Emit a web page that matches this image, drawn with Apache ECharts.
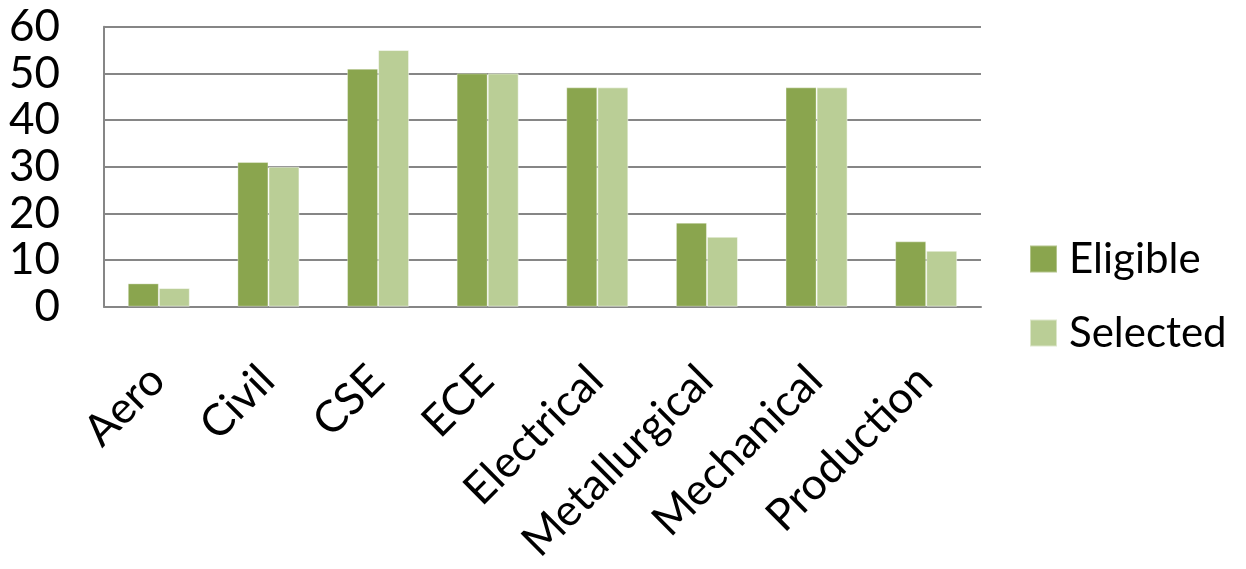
<!DOCTYPE html>
<html>
<head>
<meta charset="utf-8">
<script src="https://cdn.jsdelivr.net/npm/echarts@6/dist/echarts.min.js"></script>
<style>
html,body{margin:0;padding:0;background:#fff;}
#chart{width:1246px;height:569px;}
</style>
</head>
<body>
<div id="chart"></div>
<script>
var categories = ['Aero','Civil','CSE','ECE','Electrical','Metallurgical','Mechanical','Production'];
var eligible = [5, 31, 51, 50, 47, 18, 47, 14];
var selected = [4, 30, 55, 50, 47, 15, 47, 12];
var seriesNames = ['Eligible','Selected'];
var yTicks = {min: 0, max: 60, interval: 10};

var FONT = 'Lato, "Open Sans", sans-serif';
var chart = echarts.init(document.getElementById('chart'), null, {renderer: 'canvas'});
chart.setOption({
  animation: false,
  backgroundColor: '#ffffff',
  textStyle: {fontFamily: FONT},
  grid: {left: 104, right: 265, top: 26.7, bottom: 262.3, containLabel: false, outerBoundsMode: 'none'},
  legend: {
    orient: 'vertical',
    left: 1029,
    top: 237,
    padding: 0,
    itemWidth: 27,
    itemHeight: 27,
    itemGap: 30,
    icon: 'rect',
    data: seriesNames,
    textStyle: {fontFamily: FONT, fontSize: 42, color: '#000', lineHeight: 44, padding: [0,0,0,7]}
  },
  xAxis: {
    type: 'category',
    data: categories,
    axisLine: {show: true, lineStyle: {color: '#868686', width: 2}},
    axisTick: {show: false},
    axisLabel: {
      rotate: 45, interval: 0, margin: 65,
      fontFamily: FONT, fontSize: 44, color: '#000',
      lineHeight: 44, padding: [0, 2, 0, 0]
    },
    splitLine: {show: false}
  },
  yAxis: {
    type: 'value',
    min: yTicks.min, max: yTicks.max, interval: yTicks.interval,
    axisLine: {show: true, lineStyle: {color: '#868686', width: 2}},
    axisTick: {show: false},
    axisLabel: {margin: 44, fontFamily: FONT, fontSize: 44, color: '#000'},
    splitLine: {show: true, lineStyle: {color: '#868686', width: 2}}
  },
  series: [
    {
      name: seriesNames[0], type: 'bar', data: eligible,
      barGap: '0%', barCategoryGap: '43.4%',
      itemStyle: {color: '#8AA54E', borderColor: 'rgba(255,255,255,0.35)', borderWidth: 1}
    },
    {
      name: seriesNames[1], type: 'bar', data: selected,
      barGap: '0%', barCategoryGap: '43.4%',
      itemStyle: {color: '#BACE96', borderColor: 'rgba(255,255,255,0.5)', borderWidth: 1}
    }
  ]
});
</script>
</body>
</html>
